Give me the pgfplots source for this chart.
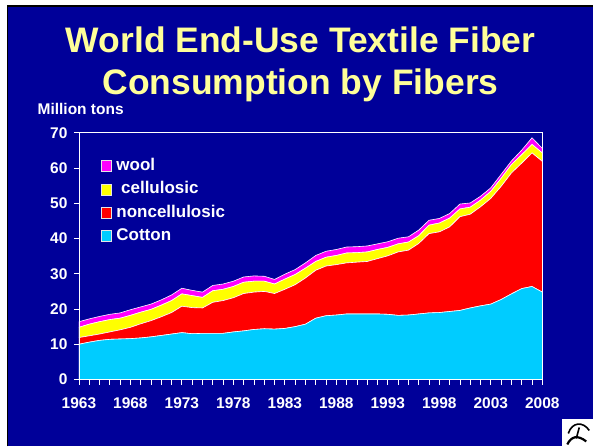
\documentclass[border=0pt]{standalone}
\usepackage{fontspec}
\setmainfont{Liberation Sans}
\usepackage{pgfplots}
\pgfplotsset{compat=1.18}
\usepackage{pgfplotstable}

\definecolor{slideblue}{HTML}{000099}
\definecolor{titleyellow}{HTML}{FFFF99}
\definecolor{ccotton}{HTML}{00CCFF}
\definecolor{cnoncell}{HTML}{FF0000}
\definecolor{ccell}{HTML}{FFFF00}
\definecolor{cwool}{HTML}{FF00FF}

% million tons, one column per fibre (stacked in the chart)
\pgfplotstableread{
year cotton noncell cell wool
1963 10.0 1.9 2.9 1.6
1964 10.6 1.8 3.3 1.5
1965 11.1 1.8 3.5 1.5
1966 11.4 2.1 3.5 1.5
1967 11.5 2.6 3.3 1.5
1968 11.6 3.2 3.4 1.6
1969 11.8 4.0 3.3 1.5
1970 12.1 4.6 3.2 1.5
1971 12.5 5.3 3.3 1.5
1972 12.9 6.1 3.4 1.6
1973 13.3 7.5 3.5 1.6
1974 13.0 7.4 3.4 1.5
1975 13.1 7.2 3.0 1.5
1976 13.1 8.8 3.3 1.5
1977 13.1 9.3 3.2 1.5
1978 13.5 9.7 3.2 1.5
1979 13.8 10.6 3.2 1.5
1980 14.2 10.6 3.1 1.5
1981 14.4 10.6 2.9 1.4
1982 14.3 10.1 2.7 1.3
1983 14.5 11.1 2.9 1.4
1984 15.0 11.9 2.9 1.4
1985 15.7 13.1 2.8 1.5
1986 17.4 13.6 2.5 1.7
1987 18.1 14.1 2.5 1.7
1988 18.3 14.3 2.6 1.7
1989 18.6 14.5 2.8 1.7
1990 18.6 14.7 2.7 1.7
1991 18.6 14.9 2.7 1.7
1992 18.6 15.7 2.6 1.6
1993 18.5 16.6 2.4 1.6
1994 18.2 18.0 2.3 1.6
1995 18.3 18.4 2.3 1.5
1996 18.6 20.0 2.2 1.6
1997 18.9 22.5 2.4 1.4
1998 19.0 22.9 2.5 1.3
1999 19.3 24.0 2.5 1.3
2000 19.6 26.6 2.2 1.4
2001 20.3 26.6 2.0 1.2
2002 20.9 28.1 1.9 1.1
2003 21.4 30.0 2.0 1.0
2004 22.7 32.1 2.3 1.1
2005 24.3 34.3 2.4 1.0
2006 25.8 35.6 2.4 1.3
2007 26.4 37.9 2.4 1.9
2008 24.8 37.1 2.4 1.3
}\fibers

\begin{document}
\begin{tikzpicture}
    % slide background
    \fill[white] (0bp,0bp) rectangle (594bp,447bp);
    \fill[slideblue] (7bp,0bp) rectangle (594bp,440bp);
    \draw[black, line width=1.5bp] (7.75bp,0bp) -- (7.75bp,440.75bp) -- (594bp,440.75bp);

    \node[anchor=base, text=titleyellow, font=\bfseries\fontsize{35.5bp}{42bp}\selectfont]
        at (301bp,394.7bp) {World End-Use Textile Fiber};
    \node[anchor=base, text=titleyellow, font=\bfseries\fontsize{35.5bp}{42bp}\selectfont]
        at (301bp,352bp) {Consumption by Fibers};
    \node[anchor=base west, text=white, inner sep=0pt, font=\bfseries\fontsize{15.5bp}{18bp}\selectfont]
        at (37.5bp,332bp) {Million tons};

    \begin{axis}[
        at={(79bp,67bp)},
        anchor=south west,
        scale only axis,
        width=464bp,
        height=247bp,
        xmin=1963, xmax=2008,
        ymin=0, ymax=70,
        xtick={1963,1968,...,2008},
        minor x tick num=4,
        ytick={0,10,...,70},
        stack plots=y,
        axis on top,
        axis line style={white, line width=0.8bp},
        every tick/.style={white, line width=0.8bp},
        tick align=outside,
        tick pos=left,
        major tick length=5bp,
        minor tick length=5bp,
        /pgf/number format/assume math mode=true,
        /pgf/number format/1000 sep={},
        ticklabel style={text=white, font=\bfseries\fontsize{15.5bp}{18bp}\selectfont},
        xticklabel style={yshift=-10bp},
        yticklabel style={xshift=-3bp},
        reverse legend,
        legend cell align=left,
        legend image code/.code={
            \draw[#1, draw=white!80!gray, line width=0.6bp] (0bp,-5.5bp) rectangle (10bp,5.5bp);
        },
        legend style={
            draw=none, fill=none, text=white,
            font=\bfseries\fontsize{17bp}{20bp}\selectfont,
            at={(0.047,0.898)}, anchor=north west,
            inner sep=0pt, row sep=7.3bp, column sep=5bp,
            nodes={inner sep=0pt, text height=12.5bp, text depth=3.5bp},
        },
    ]
        \addplot[fill=ccotton, draw=white, line width=0.6bp]
            table[x=year, y=cotton] {\fibers} \closedcycle;
        \addlegendentry{Cotton}
        \addplot[fill=cnoncell, draw=white, line width=0.6bp]
            table[x=year, y=noncell] {\fibers} \closedcycle;
        \addlegendentry{noncellulosic}
        \addplot[fill=ccell, draw=white, line width=0.6bp]
            table[x=year, y=cell] {\fibers} \closedcycle;
        \addlegendentry{\ cellulosic}
        \addplot[fill=cwool, draw=white, line width=0.6bp]
            table[x=year, y=wool] {\fibers} \closedcycle;
        \addlegendentry{wool}
    \end{axis}

    % cotton emblem, bottom right
    \fill[white] (563bp,0bp) rectangle (594bp,27bp);
    \draw[black, line width=2.2bp] (568bp,2bp) .. controls (572bp,10bp) and (578bp,12bp) .. (587bp,5bp);
    \draw[black, line width=1.6bp] (569bp,13bp) .. controls (573bp,25bp) and (584bp,25bp) .. (590bp,16bp);
    \draw[black, line width=1.6bp] (577bp,8bp) -- (580bp,19bp);

    \path[use as bounding box] (0bp,0bp) rectangle (594bp,447bp);
\end{tikzpicture}
\end{document}
